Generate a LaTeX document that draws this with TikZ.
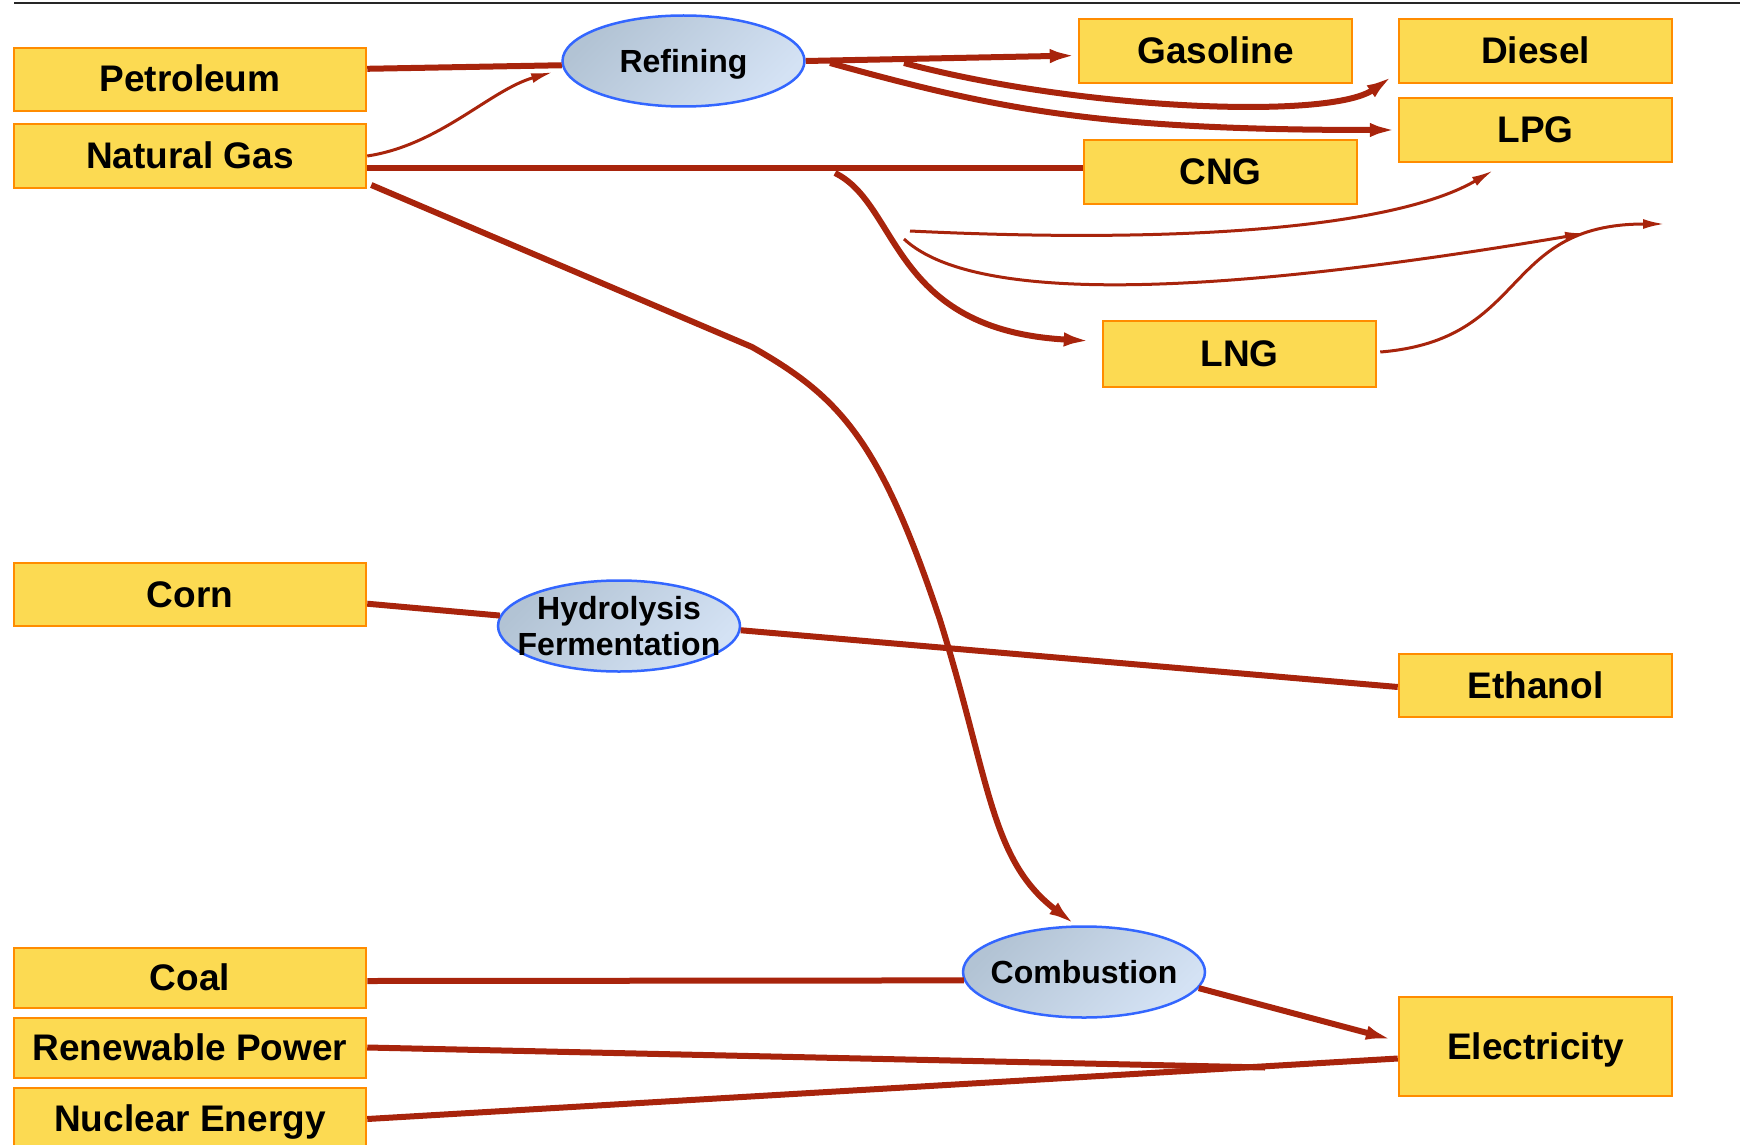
\documentclass[tikz,border=0pt]{standalone}
\usepackage{fontspec}
\setmainfont{Liberation Sans}
\usetikzlibrary{arrows.meta,shapes.geometric,calc}
\definecolor{flow}{RGB}{168,36,12}
\definecolor{boxfill}{RGB}{252,218,82}
\definecolor{boxline}{RGB}{255,140,0}
\definecolor{ellline}{RGB}{51,102,255}
\definecolor{ellA}{RGB}{178,195,212}
\definecolor{ellB}{RGB}{212,226,244}
\begin{document}
\begin{tikzpicture}[x=1pt,y=-1pt,
  fuel/.style={draw=boxline, line width=2.5pt, fill=boxfill, inner sep=0pt,
    text height=25pt, text depth=0pt,
    font=\fontsize{37}{44}\selectfont\bfseries},
  leftbox/.style={fuel, minimum width=352pt},
  rightbox/.style={fuel, minimum width=273pt},
  proc/.style={ellipse, draw=ellline, line width=2.5pt, top color=ellA, bottom color=ellB,
    shading angle=45, minimum width=242pt, minimum height=91pt, inner sep=0pt,
    align=center, font=\fontsize{32}{36}\selectfont\bfseries},
  oneline/.style={text height=23pt, text depth=0pt, inner xsep=-8pt},
  bigflow/.style={draw=flow, line width=6pt},
  smallflow/.style={draw=flow, line width=3pt},
  bigtip/.style={-{Latex[length=28pt,width=14pt]}},
  smalltip/.style={-{Latex[length=22pt,width=10pt]}}]
\useasboundingbox (0,0) rectangle (1740,1145);
\draw[line width=2pt, black!85] (14,3.5) coordinate (r0) -- (1740,3.5) coordinate (r1);

% source boxes
\node[leftbox, minimum height=63pt] (pet) at (190,79.5) {Petroleum};
\node[leftbox, minimum height=64pt] (ng) at (190,156) {Natural Gas};
\node[leftbox, minimum height=63pt] (corn) at (190,594.5) {Corn};
\node[leftbox, minimum height=60pt] (coal) at (190,978) {Coal};
\node[leftbox, minimum height=60pt] (ren) at (190,1048) {Renewable Power};
\node[leftbox, minimum height=62pt] (nuc) at (190,1119) {Nuclear Energy};

% product boxes
\node[rightbox, minimum height=64pt] (gas) at (1215.5,51) {Gasoline};
\node[rightbox, minimum height=64pt] (dsl) at (1535.5,51) {Diesel};
\node[rightbox, minimum height=64pt] (lpg) at (1535.5,130) {LPG};
\node[rightbox, minimum height=64pt] (cng) at (1220.5,172) {CNG};
\node[rightbox, minimum height=66pt] (lng) at (1239.5,354) {LNG};
\node[rightbox, minimum height=63pt] (eth) at (1535.5,685.5) {Ethanol};
\node[rightbox, minimum height=99pt] (elec) at (1535.5,1046.5) {Electricity};

% processes
\node[proc, oneline] (ref) at (683.5,61) {Refining};
\node[proc, inner xsep=-16pt, inner ysep=-5pt] (hyd) at (619,626) {Hydrolysis\\Fermentation};
\node[proc, oneline] (comb) at (1084,972) {Combustion};

% free coordinates
\coordinate (k1) at (752,347);
\coordinate (k2) at (940,620);
\coordinate (d0) at (904,63);
\coordinate (l0) at (830,63);
\coordinate (n0) at (835,173);
\coordinate (a0) at (910,231);
\coordinate (b0) at (904,239);
\coordinate (b1) at (1587,233);
\coordinate (c1) at (1665,224);
\coordinate (e1) at (1265,1067.5);

% connectors
\draw[bigflow] ([yshift=10.7pt]pet.east) -- (ref.182);
\draw[smallflow, smalltip] (ng.east) .. controls (440,145) and (490,90) .. ([xshift=-8pt,yshift=-11pt]ref.west);
\draw[bigflow] ([yshift=-11.6pt]ng.east) -- ([yshift=4.4pt]cng.west);
\draw[bigflow, bigtip] ([xshift=4pt,yshift=-29pt]ng.east) -- (k1)
  .. controls (840,397) and (880,440) .. (k2)
  .. controls (990,780) and (990,860) .. ([xshift=-8pt]comb.north);
\draw[bigflow, bigtip] (ref.east) -- ([yshift=-4.5pt]gas.west);
\draw[bigflow, bigtip] (d0) .. controls (1080,110) and (1330,120) .. ([xshift=-4pt,yshift=9pt]dsl.south west);
\draw[bigflow, bigtip] (l0) .. controls (1000,110) and (1100,130) .. (lpg.west);
\draw[bigflow, bigtip] (n0) .. controls (900,205) and (890,330) .. ([xshift=-10pt,yshift=13pt]lng.west);
\draw[smallflow, smalltip] (a0) .. controls (1200,245) and (1400,225) .. ([xshift=-42pt,yshift=-7pt]lpg.south);
\draw[smallflow, smalltip] (b0) .. controls (980,310) and (1250,290) .. (b1);
\draw[smallflow, smalltip] ([xshift=3pt,yshift=2pt]lng.east) .. controls (1530,340) and (1500,224) .. (c1);
\draw[bigflow] ([yshift=-9.2pt]corn.east) -- (hyd.175);
\draw[bigflow] (hyd.358) -- ([yshift=-1.5pt]eth.west);
\draw[bigflow] ([yshift=-3pt]coal.east) -- (comb.184);
\draw[bigflow, bigtip] (comb.352) -- ([xshift=-4pt,yshift=6.5pt]elec.west);
\draw[bigflow] ([yshift=0.5pt]ren.east) -- (e1);
\draw[bigflow] (nuc.east) -- ([yshift=-12pt]elec.west);
\end{tikzpicture}
\end{document}
